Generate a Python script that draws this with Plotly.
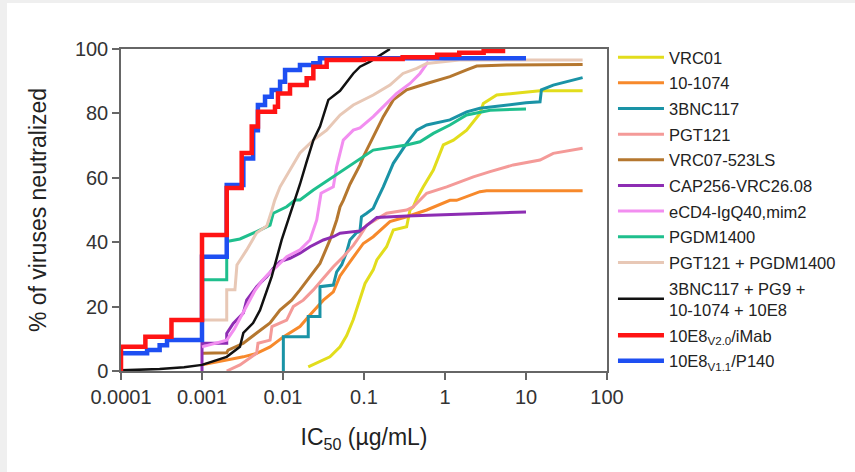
import plotly.graph_objects as go

# IC50 (µg/mL) vs cumulative % of viruses neutralized, one list pair per reagent
vrc01_x = [0.0205, 0.0286, 0.038, 0.0506, 0.0611, 0.0738, 0.0893, 0.103, 0.13, 0.144, 0.19, 0.23, 0.336,
           0.37, 0.406, 0.448, 0.54, 0.718, 0.953, 1.27, 1.85, 2.7, 2.97, 4.35, 8.43, 14.9, 50]
vrc01_y = [1.3, 2.9, 4.4, 7.5, 11, 16, 22, 27.2, 31.4, 34.5, 38.6, 43.8, 44.8,
           50, 51, 53.5, 57.2, 62.4, 70.2, 71.7, 74.8, 80, 83.1, 85.7, 86.4, 87, 87]

x1074_x = [0.001, 0.00202, 0.00324, 0.00473, 0.00692, 0.0101, 0.0162, 0.0215, 0.0315, 0.0418, 0.0506,
           0.0671, 0.0893, 0.098, 0.13, 0.209, 0.336, 0.594, 1.15, 1.39, 2.7, 3.27, 50]
x1074_y = [1.9, 3.4, 4.4, 5.5, 7.5, 10.6, 13.8, 17.4, 22, 24.6, 29.5,
           33.9, 38, 39.6, 41.7, 46.4, 47.9, 50, 53, 53, 55.7, 56, 56]

bnc117_x = [0.0101, 0.0101, 0.0205, 0.0205, 0.0286, 0.0286, 0.0418, 0.046, 0.0531, 0.0611, 0.0671, 0.0812,
            0.089, 0.093, 0.108, 0.13, 0.144, 0.173, 0.23, 0.336, 0.448, 0.594, 1.15, 1.85, 2.7, 5.78,
            10, 14.9, 15.5, 21.7, 38.4, 50]
bnc117_y = [0, 10.6, 10.6, 16.9, 16.9, 26.2, 26.7, 30.8, 33, 37, 40.7, 43,
            43.3, 47.9, 49, 50.5, 53, 57.2, 64.5, 70.7, 74.8, 76.4, 78, 80.5, 81.6, 82.6,
            83.3, 83.6, 87.3, 88.8, 90.4, 91.1]

pgt121_x = [0.00202, 0.00294, 0.00473, 0.00491, 0.00692, 0.0073, 0.0111, 0.0134, 0.0178, 0.0237, 0.0315,
            0.0418, 0.0555, 0.0738, 0.0893, 0.108, 0.19, 0.336, 0.406, 0.594, 1.05, 2.24, 3.6, 6.97,
            14.9, 21.7, 50]
pgt121_y = [0, 1.9, 5.5, 8.6, 9.6, 13.8, 15.8, 20, 22, 25.2, 28.8,
            32.4, 35.5, 39, 42, 45.3, 49, 50, 51, 55.2, 57.2, 60.3, 61.9, 64,
            65.5, 67.6, 69.2]

vrc07_x = [0.001, 0.00202, 0.0021, 0.00324, 0.00473, 0.00692, 0.00918, 0.0128, 0.0162, 0.0215, 0.0286,
           0.038, 0.046, 0.0506, 0.0555, 0.0671, 0.0893, 0.098, 0.13, 0.173, 0.23, 0.336, 0.594, 1.15,
           1.85, 2.46, 5.78, 50]
vrc07_y = [5.5, 5.7, 6.5, 8.6, 11.8, 14.9, 18.9, 22, 25.2, 29.3, 33.4,
           40.7, 46.9, 51, 53, 58, 64, 66.5, 72.8, 79, 84.2, 87.3, 89.3, 91.4,
           93.5, 94.7, 95, 95.2]

cap256_x = [0.001, 0.001, 0.00202, 0.00202, 0.00243, 0.00324, 0.00356, 0.00411, 0.00473, 0.00571, 0.00629,
            0.00759, 0.00918, 0.0122, 0.0162, 0.0215, 0.0315, 0.0418, 0.0506, 0.0893, 0.13, 0.144,
            0.336, 0.867, 4.78, 10]
cap256_y = [0, 8.6, 8.6, 11.7, 14.8, 18, 22, 24.1, 26.2, 28.3, 29.3,
            31.9, 34, 35, 36.6, 38.6, 40.7, 41.7, 42.8, 43.5, 46.9, 47.7,
            48.1, 48.5, 49.3, 49.4]

ecd4_x = [0.001, 0.00202, 0.0025, 0.0035, 0.0045, 0.0055, 0.0065, 0.00835, 0.0111, 0.0162, 0.0215,
          0.0261, 0.0286, 0.0295, 0.0418, 0.046, 0.0555, 0.0738, 0.0893, 0.13, 0.19, 0.253, 0.37,
          0.491, 0.622]
ecd4_y = [7.5, 9.6, 13, 20, 25, 28, 30, 32.4, 35.5, 37.6, 40.7,
          46.9, 53.1, 55.2, 57.2, 63.5, 71.7, 74.8, 75.5, 79, 83.1, 86.2, 89.3,
          92.4, 96.1]

pgdm_x = [0.001, 0.00202, 0.00202, 0.00294, 0.00473, 0.00692, 0.00759, 0.0111, 0.0141, 0.0162, 0.0237,
          0.0418, 0.0893, 0.13, 0.336, 0.491, 0.718, 1.15, 1.85, 3.6, 10]
pgdm_y = [28.3, 28.3, 40.2, 41, 43.3, 45.3, 49, 51, 53.1, 53.1, 56.2,
          60.3, 66, 68.6, 70.2, 71.2, 73.8, 76.4, 79.5, 81, 81.4]

combo2_x = [0.001, 0.00202, 0.00202, 0.00255, 0.0027, 0.00356, 0.00473, 0.0063, 0.0073, 0.0079, 0.0092,
            0.0122, 0.0162, 0.0237, 0.0346, 0.0506, 0.0738, 0.13, 0.209, 0.303, 0.448, 0.594, 1.5, 50]
combo2_y = [15.8, 15.8, 25.2, 25.2, 32.9, 37.6, 42.9, 45, 50, 53, 57.2,
            62.4, 67.7, 71.7, 74.8, 79.5, 82.6, 85.7, 88.8, 92.4, 94, 95.5, 96.6, 96.6]

combo4_x = [0.0001, 0.0003, 0.0006, 0.001, 0.00202, 0.00294, 0.00324, 0.00427, 0.0052, 0.00629, 0.00725,
            0.00835, 0.00963, 0.0116, 0.0141, 0.0162, 0.0196, 0.0237, 0.0286, 0.0363, 0.0506, 0.0671,
            0.0738, 0.0893, 0.119, 0.209]
combo4_y = [0.2, 0.6, 1.2, 1.9, 4.4, 7.5, 11.8, 14.9, 18.9, 25.2, 29.3,
            35, 40.7, 46.9, 53, 58, 65, 71.7, 75.9, 84.2, 87, 91,
            92.4, 94.5, 96.1, 100]

imab_x = [0.0001, 0.0001, 0.0002, 0.00042, 0.001, 0.00202, 0.00309, 0.00411, 0.00491, 0.00796, 0.00867,
          0.0122, 0.0196, 0.0237, 0.0346, 0.1, 0.3, 0.8, 1.5, 3, 5.2]
imab_y = [0, 7.5, 10.6, 15.8, 42.2, 56.8, 67.7, 75.9, 80.5, 82.1, 86.2,
          88.8, 90.9, 94.5, 96.6, 96.9, 97.4, 98.2, 98.8, 99.4, 100]

p140_x = [0.0001, 0.00021, 0.0003, 0.00037, 0.001, 0.00202, 0.00324, 0.00428, 0.0049, 0.006, 0.00725,
          0.0092, 0.0106, 0.0162, 0.0237, 0.0286, 10]
p140_y = [5.5, 6.5, 8, 9.6, 35.5, 57.8, 66, 74.8, 82.6, 85.2, 87.3,
          89.8, 93.5, 95, 95.6, 97.1, 97.1]

names = ["VRC01", "10-1074", "3BNC117", "PGT121", "VRC07-523LS", "CAP256-VRC26.08",
         "eCD4-IgQ40,mim2", "PGDM1400", "PGT121 + PGDM1400",
         "3BNC117 + PG9 +<br>10-1074 + 10E8",
         "10E8<sub>V2.0</sub>/iMab", "10E8<sub>V1.1</sub>/P140"]

x_ticks = [0.0001, 0.001, 0.01, 0.1, 1, 10, 100]
x_ticktext = ["0.0001", "0.001", "0.01", "0.1", "1", "10", "100"]
y_ticks = [0, 20, 40, 60, 80, 100]

series = [
    (vrc01_x, vrc01_y, "#e2dd1c", 3, "linear"),
    (x1074_x, x1074_y, "#f7892b", 3, "linear"),
    (bnc117_x, bnc117_y, "#1a93a6", 3, "linear"),
    (pgt121_x, pgt121_y, "#f49a98", 3, "linear"),
    (vrc07_x, vrc07_y, "#b5772f", 3, "linear"),
    (cap256_x, cap256_y, "#8d2db3", 3, "linear"),
    (ecd4_x, ecd4_y, "#f28ef0", 3, "linear"),
    (pgdm_x, pgdm_y, "#1fbf8d", 3, "linear"),
    (combo2_x, combo2_y, "#e8c8b6", 3, "linear"),
    (combo4_x, combo4_y, "#111111", 2.5, "linear"),
    (imab_x, imab_y, "#ff1414", 4.5, "hv"),
    (p140_x, p140_y, "#1e4ff2", 4.5, "hv"),
]

fig = go.Figure()
# blue drawn before red so red sits on top, legend ranks keep the listed order
draw_order = list(range(10)) + [11, 10]
for i in draw_order:
    xs, ys, color, width, shape = series[i]
    fig.add_trace(go.Scatter(
        x=xs, y=ys, mode="lines", name=names[i],
        line=dict(color=color, width=width, shape=shape),
        legendrank=i + 1, legendgroup=f"g{i}",
    ))

axis_font = dict(family="Liberation Sans, Arial, sans-serif", size=20, color="#333333")
title_font = dict(family="Liberation Sans, Arial, sans-serif", size=23, color="#222222")

fig.update_layout(
    width=855, height=472,
    margin=dict(l=121, r=248, t=49, b=101),
    paper_bgcolor="white", plot_bgcolor="white",
    showlegend=True,
    legend=dict(
        x=1.0123, y=1.028, xanchor="left", yanchor="top",
        font=dict(family="Liberation Sans, Arial, sans-serif", size=16.5, color="#222222"),
        tracegroupgap=1.2, itemwidth=46, bgcolor="rgba(0,0,0,0)",
        maxheight=470,
    ),
    xaxis=dict(
        type="log", range=[-4, 2], tickvals=x_ticks, ticktext=x_ticktext,
        showgrid=False, zeroline=False,
        showline=True, linecolor="#666666", linewidth=1.5, mirror=True,
        ticks="outside", ticklen=7, tickwidth=1.5, tickcolor="#666666",
        tickfont=axis_font,
        title=dict(text="IC<sub>50</sub> (µg/mL)", font=title_font, standoff=22),
    ),
    yaxis=dict(
        range=[0, 100], tickvals=y_ticks,
        showgrid=False, zeroline=False,
        showline=True, linecolor="#666666", linewidth=1.5, mirror=True,
        ticks="outside", ticklen=7, tickwidth=1.5, tickcolor="#666666",
        tickfont=axis_font,
        title=dict(text="% of viruses neutralized", font=title_font, standoff=22),
    ),
    shapes=[
        # light page edge along the top and left
        dict(type="rect", xref="paper", yref="paper", x0=-0.25, x1=1.52, y0=(371 - 3) / 322, y1=(371 + 1) / 322,
             fillcolor="#efefef", line=dict(width=0), layer="below"),
        dict(type="rect", xref="paper", yref="paper", x0=-0.25, x1=(7 - 121) / 486, y0=-0.32, y1=1.16,
             fillcolor="#efefef", line=dict(width=0), layer="below"),
    ],
)

fig.write_html("out.html")
